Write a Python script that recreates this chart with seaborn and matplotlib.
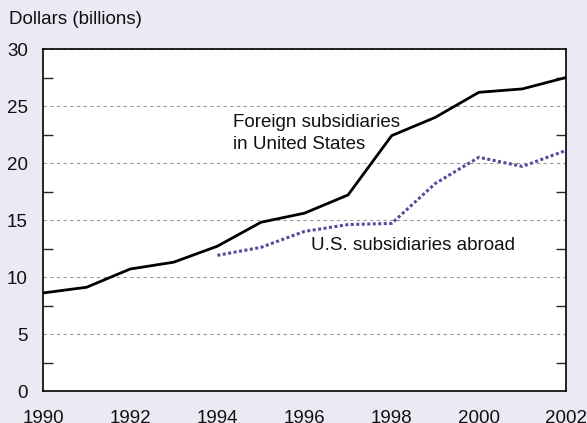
import numpy as np
import pandas as pd
import matplotlib
matplotlib.use("Agg")
import matplotlib.pyplot as plt
import seaborn as sns

# ── data ─────────────────────────────────────────────────────
years_foreign = [1990, 1991, 1992, 1993, 1994, 1995, 1996, 1997, 1998, 1999, 2000, 2001, 2002]
foreign_vals  = [8.6, 9.1, 10.7, 11.3, 12.7, 14.8, 15.6, 17.2, 22.4, 24.0, 26.2, 26.5, 27.5]

years_us = [1994, 1995, 1996, 1997, 1998, 1999, 2000, 2001, 2002]
us_vals  = [11.9, 12.6, 14.0, 14.6, 14.7, 18.2, 20.5, 19.7, 21.1]

x_ticks = [1990, 1992, 1994, 1996, 1998, 2000, 2002]
y_ticks = [0, 5, 10, 15, 20, 25, 30]

BG = "#ebe9f3"
PURPLE = "#5a4a9e"

sns.set_style("white")
plt.rcParams["font.family"] = ["Liberation Sans", "DejaVu Sans"]

df_f = pd.DataFrame({"year": years_foreign, "value": foreign_vals})
df_u = pd.DataFrame({"year": years_us, "value": us_vals})

fig = plt.figure(figsize=(5.87, 4.23), dpi=100, facecolor=BG)
ax = fig.add_axes([43 / 587, 32 / 423, (566 - 43) / 587, (391 - 49) / 423])
ax.set_facecolor("white")

sns.lineplot(data=df_f, x="year", y="value", ax=ax, color="black", linewidth=2.0)
sns.lineplot(data=df_u, x="year", y="value", ax=ax, color=PURPLE, linewidth=2.2,
             linestyle=(0, (1.0, 0.8)))

ax.set_xlim(1990, 2002)
ax.set_ylim(0, 30)
ax.set_xlabel("")
ax.set_ylabel("")

# y axis: labels on majors, tick marks only at the half steps
ax.set_yticks(y_ticks)
ax.set_yticks(np.arange(2.5, 30, 5), minor=True)
ax.tick_params(axis="y", which="major", length=0, pad=11, labelsize=13.5, labelcolor="#111111")
ax.tick_params(axis="y", which="minor", length=7, width=1, direction="in", left=True, right=True)

# x axis
ax.set_xticks(x_ticks)
ax.set_xticks(np.arange(1991, 2002, 2), minor=True)
ax.tick_params(axis="x", which="major", length=8, width=1, direction="in", pad=14,
               labelsize=13.5, labelcolor="#111111")
ax.tick_params(axis="x", which="minor", length=5, width=1, direction="in")

ax.yaxis.grid(True, which="major", linestyle=(0, (3, 3)), color="#999999", linewidth=0.8)
ax.xaxis.grid(False)

for s in ax.spines.values():
    s.set_visible(True)
    s.set_color("black")
    s.set_linewidth(1.2)

ax.text(1994.36, 22.6, "Foreign subsidiaries\nin United States", fontsize=13.5,
        color="#111111", va="center", ha="left", linespacing=1.4)
ax.text(1996.15, 12.8, "U.S. subsidiaries abroad", fontsize=13.5,
        color="#111111", va="center", ha="left")

fig.text(9 / 587, 1 - 19 / 423, "Dollars (billions)", fontsize=13.5, color="#111111",
         va="center", ha="left")

fig.savefig("out.png", dpi=100, facecolor=BG)
